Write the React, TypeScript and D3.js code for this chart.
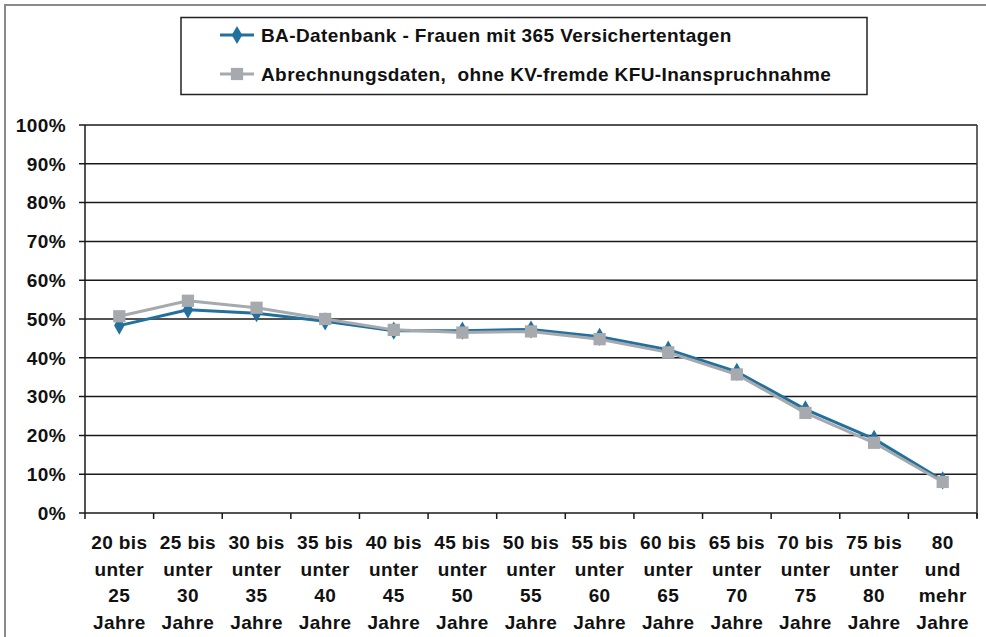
import React from "react";
import * as d3 from "d3";

const ageGroups = [
  ["20 bis", "unter", "25", "Jahre"],
  ["25 bis", "unter", "30", "Jahre"],
  ["30 bis", "unter", "35", "Jahre"],
  ["35 bis", "unter", "40", "Jahre"],
  ["40 bis", "unter", "45", "Jahre"],
  ["45 bis", "unter", "50", "Jahre"],
  ["50 bis", "unter", "55", "Jahre"],
  ["55 bis", "unter", "60", "Jahre"],
  ["60 bis", "unter", "65", "Jahre"],
  ["65 bis", "unter", "70", "Jahre"],
  ["70 bis", "unter", "75", "Jahre"],
  ["75 bis", "unter", "80", "Jahre"],
  ["80", "und", "mehr", "Jahre"],
];

// BA-Datenbank - Frauen mit 365 Versichertentagen
const baValues = [0.483, 0.524, 0.515, 0.494, 0.47, 0.47, 0.473, 0.454, 0.421, 0.364, 0.267, 0.191, 0.084];
// Abrechnungsdaten, ohne KV-fremde KFU-Inanspruchnahme
const abrValues = [0.507, 0.547, 0.529, 0.5, 0.472, 0.465, 0.468, 0.448, 0.414, 0.357, 0.258, 0.181, 0.08];

const yTicks = [0, 0.1, 0.2, 0.3, 0.4, 0.5, 0.6, 0.7, 0.8, 0.9, 1];

const seriesNames = [
  "BA-Datenbank - Frauen mit 365 Versichertentagen",
  "Abrechnungsdaten,\u00a0 ohne KV-fremde KFU-Inanspruchnahme",
];

const BLUE = "#22709d";
const GRAY = "#a6a9ad";
const FONT = "'Liberation Sans', Arial, sans-serif";

const App = () => {
  const width = 986;
  const height = 637;
  const margin = { top: 125, bottom: 124, left: 85, right: 9 };

  // ---------------------- scale
  const x = d3
    .scaleBand()
    .domain(ageGroups.map((d, i) => String(i)))
    .range([margin.left, width - margin.right]);

  const y = d3
    .scaleLinear()
    .domain([0, 1])
    .range([height - margin.bottom, margin.top]);

  const cx = (i: number) => (x(String(i)) as number) + x.bandwidth() / 2;

  const line = d3
    .line<number>()
    .x((d, i) => cx(i))
    .y(d => y(d));

  const diamond = d3.symbol().type(d3.symbolDiamond).size(95)();
  const square = d3.symbol().type(d3.symbolSquare).size(150)();

  const y0 = y(0);
  const series = [
    { name: seriesNames[0], values: baValues, color: BLUE, marker: diamond },
    { name: seriesNames[1], values: abrValues, color: GRAY, marker: square },
  ];

  const bounds = d3.range(ageGroups.length + 1).map(i =>
    i < ageGroups.length ? (x(String(i)) as number) : x.range()[1]
  );

  return (
    <svg
      width={width}
      height={height}
      style={{ position: "absolute", left: 0, top: 0, background: "#fff" }}
      fontFamily={FONT}
      fontWeight="bold"
      fontSize={19}
      letterSpacing={0.4}
    >
      {/* outer frame (left + top) */}
      <path d="M5,637 V5 H986" fill="none" stroke="#8a8a8a" strokeWidth={2} />

      {/* legend */}
      <rect x={181} y={17.5} width={686} height={77} fill="#fff" stroke="#222" strokeWidth={1.5} />
      {series.map((s, k) => {
        const ly = 35 + k * 39;
        return (
          <g key={s.name}>
            <line x1={220} x2={254} y1={ly} y2={ly} stroke={s.color} strokeWidth={3} />
            <path d={s.marker as string} transform={`translate(237,${ly})`} fill={s.color} />
            <text x={261} y={ly} dy="0.36em" fill="#111">
              {s.name}
            </text>
          </g>
        );
      })}

      {/* grid lines */}
      {yTicks.map(t => (
        <g key={t}>
          <line
            x1={margin.left - 6}
            x2={width - margin.right}
            y1={y(t)}
            y2={y(t)}
            stroke="#1a1a1a"
            strokeWidth={1.5}
          />
          <text x={66} y={y(t)} dy="0.36em" textAnchor="end" fill="#111">
            {d3.format(".0%")(t)}
          </text>
        </g>
      ))}

      {/* axes */}
      <line x1={margin.left} x2={margin.left} y1={margin.top} y2={y0} stroke="#1a1a1a" strokeWidth={1.5} />
      <line
        x1={width - margin.right}
        x2={width - margin.right}
        y1={margin.top}
        y2={y0 + 5}
        stroke="#333"
        strokeWidth={1.5}
      />
      {bounds.map((b, i) => (
        <line key={i} x1={b} x2={b} y1={y0} y2={y0 + 6} stroke="#1a1a1a" strokeWidth={1.5} />
      ))}

      {/* category labels */}
      {ageGroups.map((lines, i) => (
        <text key={i} x={cx(i)} y={y0} textAnchor="middle" fill="#111">
          {lines.map((l, j) => (
            <tspan key={j} x={cx(i)} y={y0 + 36 + j * 26.5}>
              {l}
            </tspan>
          ))}
        </text>
      ))}

      {/* series */}
      {series.map(s => (
        <g key={s.name}>
          <path d={line(s.values) as string} fill="none" stroke={s.color} strokeWidth={3} strokeLinejoin="round" />
          {s.values.map((v, i) => (
            <path key={i} d={s.marker as string} transform={`translate(${cx(i)},${y(v)})`} fill={s.color} />
          ))}
        </g>
      ))}
    </svg>
  );
};

export default App;
